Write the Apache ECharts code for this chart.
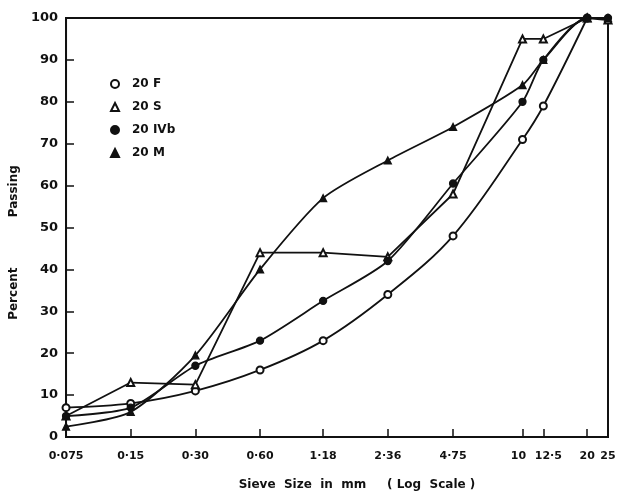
<!DOCTYPE html>
<html>
<head>
<meta charset="utf-8">
<script src="https://cdn.jsdelivr.net/npm/echarts@6/dist/echarts.min.js"></script>
<style>
  html, body { margin: 0; padding: 0; background: #fff; }
  #chart { width: 621px; height: 496px; }
</style>
</head>
<body>
<div id="chart"></div>
<script>
// sieve sizes (mm) and tick labels
var sieveTicks = [0.075, 0.15, 0.30, 0.60, 1.18, 2.36, 4.75, 10, 12.5, 20, 25];
var tickLabels = ['0·075', '0·15', '0·30', '0·60', '1·18', '2·36', '4·75', '10', '12·5', '20', '25'];

// percent passing
var f20 = [[0.075, 7], [0.15, 8], [0.30, 11], [0.60, 16], [1.18, 23], [2.36, 34], [4.75, 48], [10, 71], [12.5, 79], [20, 100]];
var s20 = [[0.075, 5], [0.15, 13], [0.30, 12.5], [0.60, 44], [1.18, 44], [2.36, 43], [4.75, 58], [10, 95], [12.5, 95], [20, 100], [25, 99.5]];
var ivb20 = [[0.075, 5], [0.15, 7], [0.30, 17], [0.60, 23], [1.18, 32.5], [2.36, 42], [4.75, 60.5], [10, 80], [12.5, 90], [20, 100], [25, 100]];
var m20 = [[0.075, 2.5], [0.15, 6], [0.30, 19.5], [0.60, 40], [1.18, 57], [2.36, 66], [4.75, 74], [10, 84], [12.5, 90], [20, 100], [25, 100]];

var chartDom = document.getElementById('chart');
var myChart = echarts.init(chartDom);
var font = 'DejaVu Sans';

var mkSeries = function (name, data, symbol, smooth) {
  return {
    name: name,
    type: 'line',
    data: data,
    smooth: smooth,
    symbol: symbol,
    symbolSize: 7,
    lineStyle: { color: '#111', width: 1.8 },
    itemStyle: { color: '#111', borderColor: '#111', borderWidth: 1.3 },
    z: 3
  };
};

var option = {
  animation: false,
  grid: { left: 66, right: 13, top: 18, bottom: 59, show: true, borderColor: '#111', borderWidth: 2 },
  legend: {
    orient: 'vertical',
    left: 105,
    top: 73,
    itemGap: 11,
    itemWidth: 8,
    itemHeight: 8,
    textStyle: { fontFamily: font, fontWeight: 'bold', fontSize: 12, color: '#111', padding: [0, 0, 0, 8] },
    data: [
      { name: '20 F', icon: 'emptyCircle' },
      { name: '20 S', icon: 'emptyTriangle' },
      { name: '20 IVb', icon: 'circle' },
      { name: '20 M', icon: 'triangle' }
    ]
  },
  xAxis: {
    type: 'log',
    logBase: 10,
    min: 0.075,
    max: 25,
    name: 'Sieve  Size  in  mm     ( Log  Scale )',
    nameLocation: 'middle',
    nameGap: 42,
    nameTextStyle: { fontFamily: font, fontWeight: 'bold', fontSize: 12, color: '#111', padding: [0, 0, 0, 40] },
    axisLine: { lineStyle: { color: '#111', width: 2 } },
    splitLine: { show: false },
    minorTick: { show: false },
    axisTick: { inside: true, length: 8, customValues: sieveTicks, lineStyle: { color: '#111', width: 1.5 } },
    axisLabel: {
      customValues: sieveTicks,
      margin: 14,
      fontFamily: font, fontWeight: 'bold', fontSize: 11, color: '#111',
      formatter: function (v) {
        var i = sieveTicks.findIndex(function (t) { return Math.abs(t - v) < 1e-6; });
        if (i < 0) return '';
        if (tickLabels[i] === '10') return '{l|10}';
        if (tickLabels[i] === '12·5') return '{r|12·5}';
        return tickLabels[i];
      },
      rich: {
        l: { fontFamily: font, fontWeight: 'bold', fontSize: 11, color: '#111', padding: [0, 8, 0, 0] },
        r: { fontFamily: font, fontWeight: 'bold', fontSize: 11, color: '#111', padding: [0, 0, 0, 10] }
      }
    }
  },
  yAxis: {
    type: 'value',
    min: 0,
    max: 100,
    interval: 10,
    name: 'Percent            Passing',
    nameLocation: 'middle',
    nameRotate: 90,
    nameGap: 44,
    nameTextStyle: { fontFamily: font, fontWeight: 'bold', fontSize: 12, color: '#111', padding: [0, 30, 0, 0] },
    axisLine: { show: true, lineStyle: { color: '#111', width: 2 } },
    splitLine: { show: false },
    axisTick: { show: true, inside: true, length: 8, lineStyle: { color: '#111', width: 1.5 } },
    axisLabel: { margin: 8, fontFamily: font, fontWeight: 'bold', fontSize: 13, color: '#111' }
  },
  series: [
    mkSeries('20 F', f20, 'emptyCircle', 0.35),
    mkSeries('20 S', s20, 'emptyTriangle', false),
    mkSeries('20 IVb', ivb20, 'circle', 0.25),
    mkSeries('20 M', m20, 'triangle', 0.25)
  ]
};
myChart.setOption(option);
</script>
</body>
</html>
